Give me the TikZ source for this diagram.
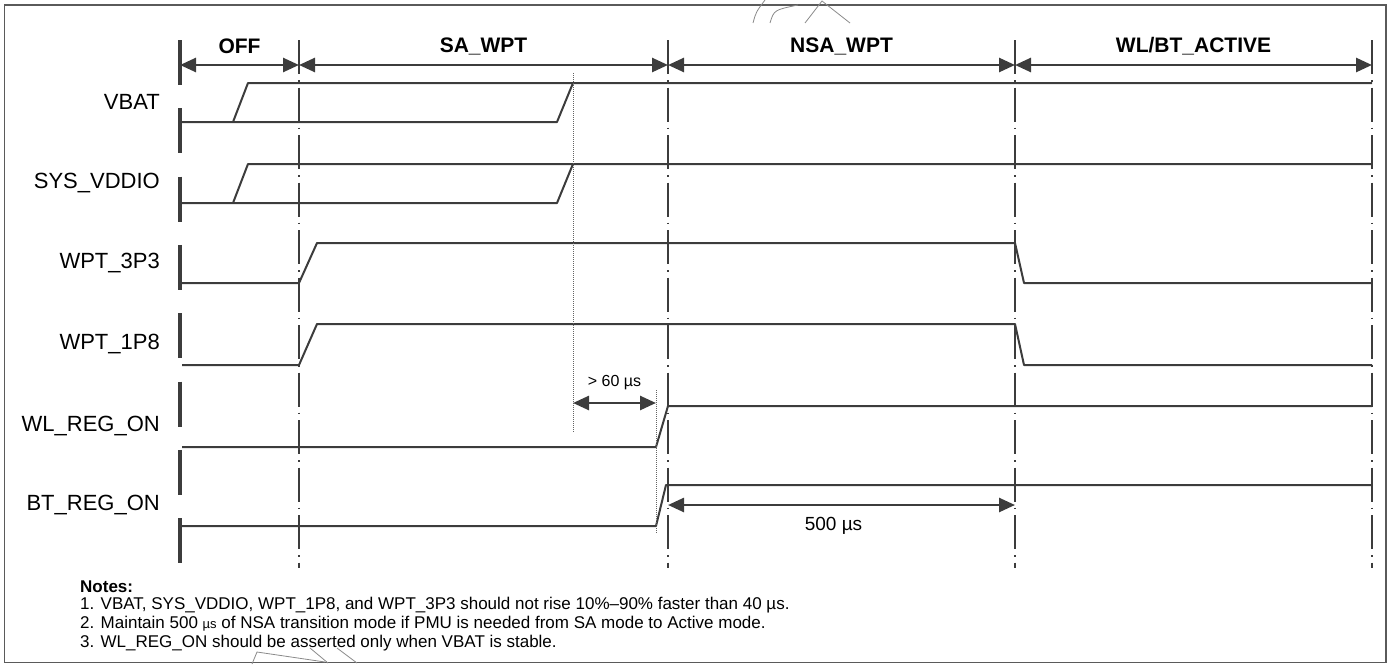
\documentclass[tikz,border=0pt]{standalone}
\usepackage{fontspec}
\setmainfont{Liberation Sans}
\usetikzlibrary{calc,arrows.meta}
\definecolor{wave}{HTML}{3C3C3C}
\definecolor{frame}{HTML}{5A5A5A}
\def\tip{Triangle[length=16pt,width=14pt]}
\tikzset{
	sig/.style={line width=2pt, color=wave, line join=round},
	span/.style={line width=2.6pt, color=wave, {\tip}-{\tip}},
	phase/.style={line width=1.3pt, color=wave, dash pattern=on 34pt off 6pt on 1.5pt off 6pt},
	guide/.style={line width=1pt, color=wave!80, dash pattern=on 1pt off 1pt},
	axisbar/.style={line width=3.5pt, color=wave, dash pattern=on 45pt off 23.3pt},
	lbl/.style={anchor=east, inner sep=0pt, font=\fontsize{22}{26}\selectfont},
	title/.style={inner sep=0pt, font=\bfseries\fontsize{21}{25}\selectfont},
	note/.style={anchor=west, inner sep=0pt, font=\fontsize{17}{19}\selectfont},
}

\begin{document}
\begin{tikzpicture}[x=1pt,y=-1pt]
			%%%%% START %%%%%
			\useasboundingbox (0,0) rectangle (1389,664);
			\draw[line width=1.6pt, color=frame] (4.5,5) rectangle (1386,662.5);
			
			% phase edges
			\coordinate (p0) at (180,65);
			\coordinate (p1) at (299,65);
			\coordinate (p2) at (668,65);
			\coordinate (p3) at (1015,65);
			\coordinate (p4) at (1372,65);
			
			\draw[axisbar] (180,40) -- (180,563);
			\foreach \x in {299,668,1015,1372}
				\draw[phase] (\x,40) -- (\x,568);
			
			\draw[span] (p0) -- (p1);
			\draw[span] (p1) -- (p2);
			\draw[span] (p2) -- (p3);
			\draw[span] (p3) -- (p4);
			\node[title] (offLbl) at ($(p0)!0.5!(p1)+(0,-19)$) {OFF};
			\node[title] (saLbl) at ($(p1)!0.5!(p2)+(0,-19)$) {SA\_WPT};
			\node[title] (nsaLbl) at ($(p2)!0.5!(p3)+(0,-19)$) {NSA\_WPT};
			\node[title] (actLbl) at ($(p3)!0.5!(p4)+(0,-19)$) {WL/BT\_ACTIVE};
			
			% signal names
			\node[lbl] (vbat) at (160,102) {VBAT};
			\node[lbl] (vddio) at (160,183) {SYS\_VDDIO};
			\node[lbl] (w3p3) at (160,263) {WPT\_3P3};
			\node[lbl] (w1p8) at (160,344) {WPT\_1P8};
			\node[lbl] (wlreg) at (160,426) {WL\_REG\_ON};
			\node[lbl] (btreg) at (160,505) {BT\_REG\_ON};
			
			% waveforms
			\draw[sig] (182,122) -- (557,122) -- (573,83);
			\draw[sig] (233,122) -- (248,83) -- (1372,83);
			
			\draw[sig] (182,203) -- (557,203) -- (573,164);
			\draw[sig] (233,203) -- (248,164) -- (1372,164);
			
			\draw[sig] (182,283) -- (299,283) -- (317,243) -- (1015,243) -- (1024,283) -- (1372,283);
			
			\draw[sig] (182,365) -- (299,365) -- (317,324) -- (1015,324) -- (1024,365) -- (1372,365);
			
			\draw[sig] (182,447) -- (656,447) -- (668,406) -- (1372,406);
			
			\draw[sig] (182,526) -- (656,526) -- (666,485) -- (1372,485);
			
			% timing marks
			\coordinate (g0) at (573,403);
			\coordinate (g1) at (656,403);
			\coordinate (h0) at (668,505);
			\coordinate (h1) at (1015,505);
			\draw[guide] (573,73) -- (573,432);
			\draw[guide] (656,390) -- (656,533);
			\draw[span] (g0) -- (g1);
			\draw[span] (h0) -- (h1);
			\node[inner sep=0pt, font=\fontsize{16}{19}\selectfont] (minLbl) at ($(g0)!0.5!(g1)+(0,-20)$) {> 60 µs};
			\node[inner sep=0pt, font=\fontsize{19}{22}\selectfont] (nsaTime) at ($(h0)!0.5!(h1)+(-8,21)$) {500 µs};
			
			% notes
			\node[note] (n0) at (80,587) {\bfseries Notes:};
			\node[note] (n1) at (80,605) {1. VBAT, SYS\_VDDIO, WPT\_1P8, and WPT\_3P3 should not rise 10\%--90\% faster than 40 µs.};
			\node[note] (n2) at (80,624) {2. Maintain 500 {\fontsize{13}{13}\selectfont µs} of NSA transition mode if PMU is needed from SA mode to Active mode.};
			\node[note] (n3) at (80,643) {3. WL\_REG\_ON should be asserted only when VBAT is stable.};
			
			% scan marks
			\draw[line width=0.8pt, color=wave!60] (753,23) .. controls (756,12) .. (765,0);
			\draw[line width=0.8pt, color=wave!60] (770,23) .. controls (774,10) .. (798,5);
			\draw[line width=0.8pt, color=wave!60] (805,23) -- (822,1) -- (850,23);
			\draw[line width=0.8pt, color=wave!60] (252,664) -- (257,652) -- (325,662);
			\draw[line width=0.8pt, color=wave!60] (310,648) -- (328,663);
			\draw[line width=0.8pt, color=wave!60] (337,648) -- (357,663);
			%%%%% END %%%%%
\end{tikzpicture}
\end{document}
